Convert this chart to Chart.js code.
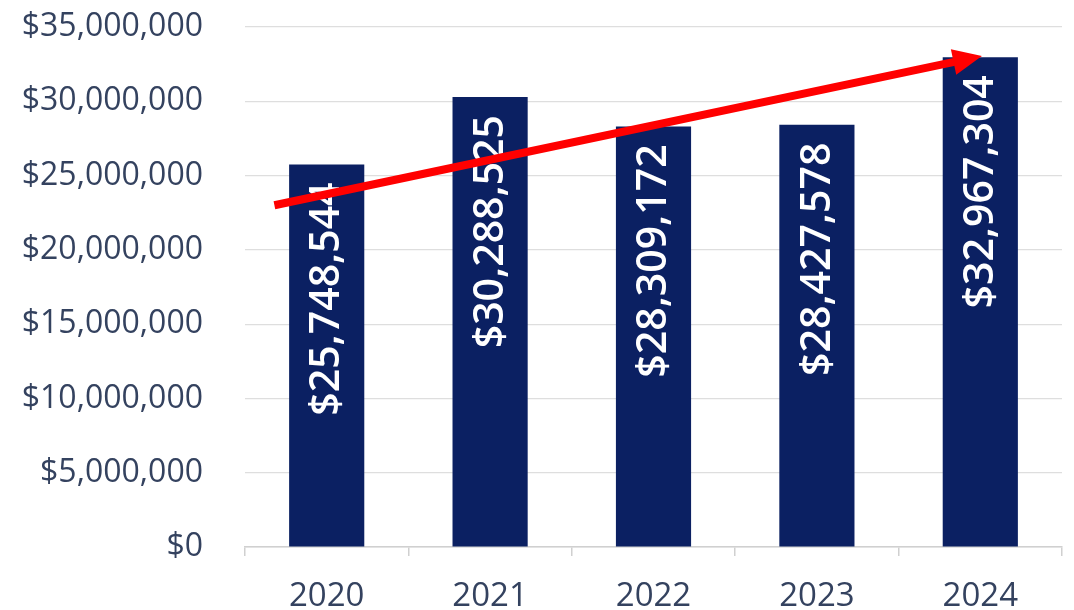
<!DOCTYPE html>
<html>
<head>
<meta charset="utf-8">
<script src="https://cdn.jsdelivr.net/npm/chart.js@4/dist/chart.umd.min.js"></script>
<style>
  html, body { margin: 0; padding: 0; background: #fff; }
  #wrap { width: 1074px; height: 610px; position: relative; }
</style>
</head>
<body>
<div id="wrap"><canvas id="chart"></canvas></div>
<script>
"use strict";

// data
var years = ["2020", "2021", "2022", "2023", "2024"];
var revenue = [25748544, 30288525, 28309172, 28427578, 32967304];
var yTicks = [0, 5000000, 10000000, 15000000, 20000000, 25000000, 30000000, 35000000];
// trend arrow, in data units: [categoryIndex, value]
var arrowFrom = [-0.32, 23000000];
var arrowTo = [4.01, 33050000];

var NAVY = "#0b2062";
var TEXT = "#34425f";
var FONT = "'Open Sans', 'Liberation Sans', sans-serif";

function money(v) {
  return "$" + Math.round(v).toString().replace(/\B(?=(\d{3})+(?!\d))/g, ",");
}

// white rotated labels inside the top of each bar
var barLabels = {
  id: "barLabels",
  afterDatasetsDraw: function (chart) {
    var ctx = chart.ctx;
    var meta = chart.getDatasetMeta(0);
    ctx.save();
    ctx.fillStyle = "#ffffff";
    ctx.font = "600 41px " + FONT;
    ctx.textAlign = "right";
    ctx.textBaseline = "middle";
    meta.data.forEach(function (bar, i) {
      ctx.save();
      ctx.translate(bar.x, bar.y + 18);
      ctx.rotate(-Math.PI / 2);
      ctx.fillText(money(revenue[i]), 0, 1);
      ctx.restore();
    });
    ctx.restore();
  }
};

// red trend arrow
var trendArrow = {
  id: "trendArrow",
  afterDraw: function (chart) {
    var xs = chart.scales.x, ys = chart.scales.y;
    var x0 = xs.getPixelForValue(arrowFrom[0]), y0 = ys.getPixelForValue(arrowFrom[1]);
    var x1 = xs.getPixelForValue(arrowTo[0]), y1 = ys.getPixelForValue(arrowTo[1]);
    var ang = Math.atan2(y1 - y0, x1 - x0);
    var headLen = 29, headW = 13;
    var bx = x1 - headLen * Math.cos(ang), by = y1 - headLen * Math.sin(ang);
    var ctx = chart.ctx;
    ctx.save();
    ctx.strokeStyle = "#ff0000";
    ctx.fillStyle = "#ff0000";
    ctx.lineWidth = 8;
    ctx.beginPath();
    ctx.moveTo(x0, y0);
    ctx.lineTo(bx + 2 * Math.cos(ang), by + 2 * Math.sin(ang));
    ctx.stroke();
    ctx.beginPath();
    ctx.moveTo(x1, y1);
    ctx.lineTo(bx + headW * Math.sin(ang), by - headW * Math.cos(ang));
    ctx.lineTo(bx - headW * Math.sin(ang), by + headW * Math.cos(ang));
    ctx.closePath();
    ctx.fill();
    ctx.restore();
  }
};

new Chart(document.getElementById("chart"), {
  type: "bar",
  data: {
    labels: years,
    datasets: [{
      data: revenue,
      backgroundColor: NAVY,
      borderWidth: 0,
      categoryPercentage: 1,
      barPercentage: 0.46
    }]
  },
  options: {
    responsive: true, maintainAspectRatio: false,
    animation: false,
    layout: { padding: { top: 27, right: 12, left: 0, bottom: 0 } },
    plugins: { legend: { display: false }, tooltip: { enabled: false } },
    scales: {
      x: {
        grid: { offset: true, drawOnChartArea: false, color: "#d0d0d0", tickLength: 9, lineWidth: 1.5 },
        border: { display: true, color: "#d0d0d0", width: 1.5 },
        ticks: { color: TEXT, padding: 21, maxRotation: 0, font: { family: FONT, size: 33 } },
        afterFit: function (axis) { axis.height = 63; axis.paddingLeft = 0; axis.paddingRight = 0; }
      },
      y: {
        min: 0, max: 35000000,
        afterBuildTicks: function (axis) {
          axis.ticks = yTicks.map(function (v) { return { value: v }; });
        },
        afterFit: function (axis) { axis.width = 245; axis.paddingTop = 0; axis.paddingBottom = 0; },
        grid: { color: "#dedede", lineWidth: 1.2, drawTicks: false },
        border: { display: false },
        ticks: {
          color: TEXT, padding: 42,
          font: { family: FONT, size: 32 },
          callback: function (v) { return money(v); }
        }
      }
    }
  },
  plugins: [barLabels, trendArrow]
});
</script>
</body>
</html>
